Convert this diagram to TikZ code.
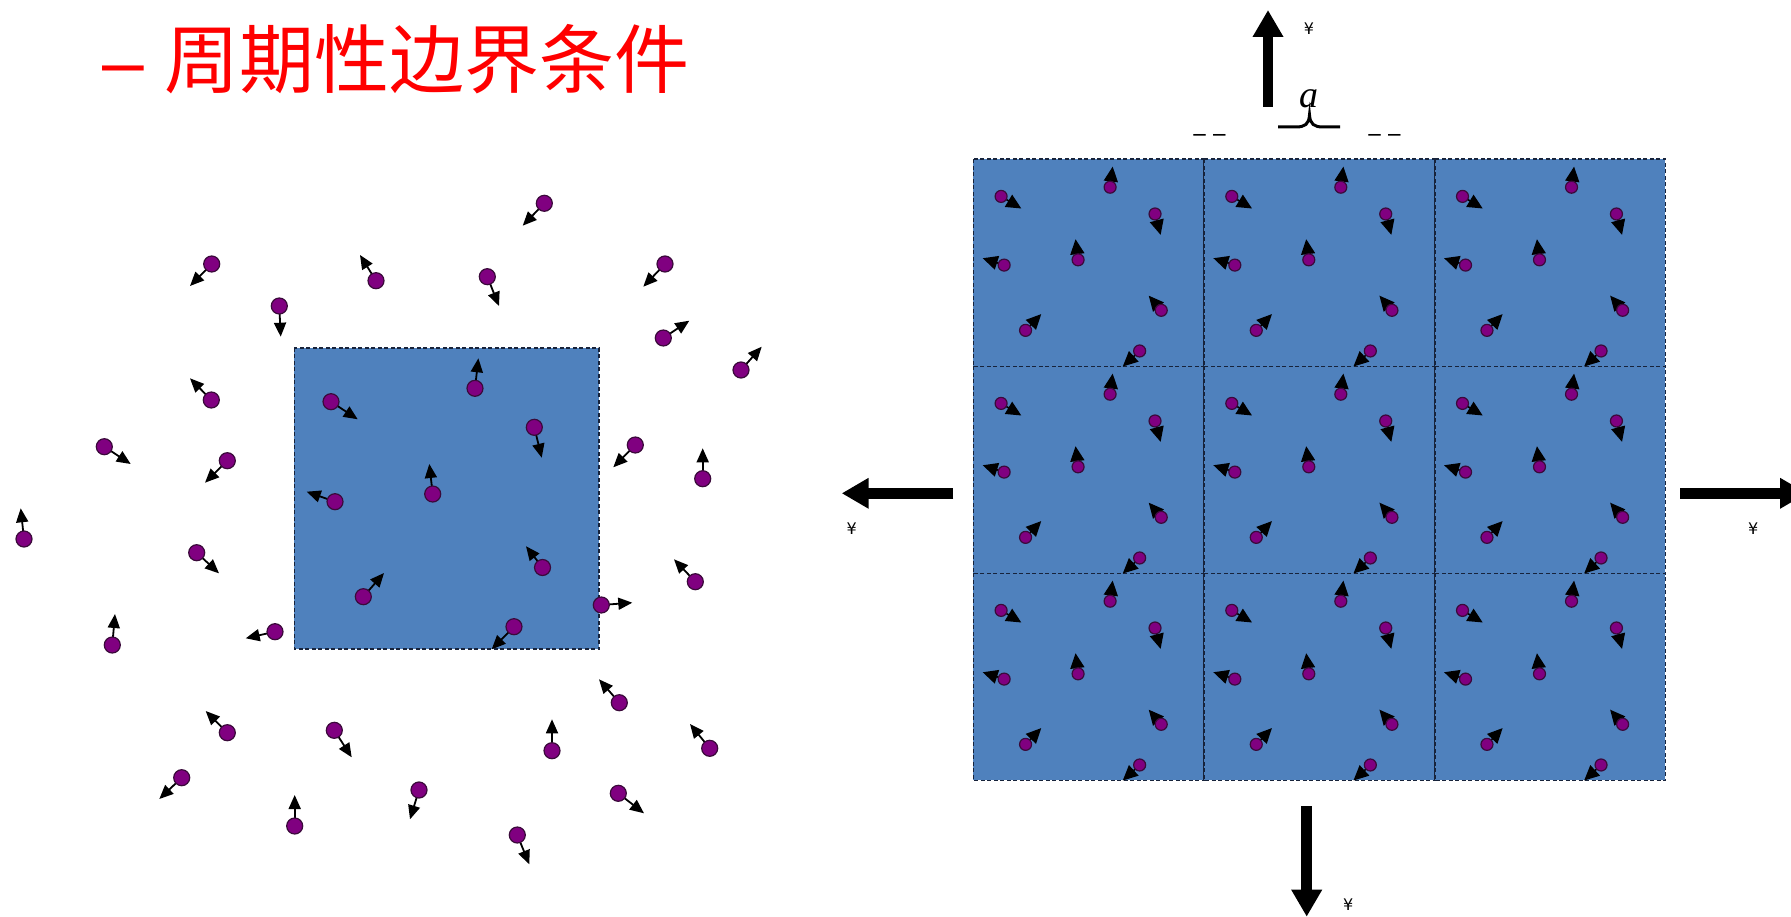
\documentclass[tikz,border=0pt]{standalone}
\usepackage{fontspec}
\newfontfamily\cjk{Noto Sans CJK SC}
\newfontfamily\djv{DejaVu Sans}
\newfontfamily\lsans{Liberation Sans}
\newfontfamily\lserif{Liberation Serif}
\usetikzlibrary{arrows.meta}
\definecolor{cellblue}{HTML}{4F81BD}
\definecolor{rim}{HTML}{17233B}
\definecolor{atomc}{HTML}{800080}
\definecolor{atomrim}{HTML}{3A0A3A}
\tikzset{
  cell/.style={fill=cellblue,draw=rim,line width=1.6pt,dash pattern=on 4pt off 2.5pt},
  vel/.style={line width=1.8pt,-{Triangle[length=14pt,width=12pt]}},
  smallvel/.style={line width=1.6pt,-{Triangle[length=15pt,width=14pt]}},
  atom/.style={fill=atomc,draw=atomrim,line width=1.2pt},
  bigarrow/.style={line width=10.5pt,-{Triangle[length=27pt,width=29pt]}},
  yen/.style={font=\djv\fontsize{16}{16}\selectfont,inner sep=0pt}}
% particle: [radius]{centre}{arrow tip}
\newcommand{\mol}[3][8pt]{\draw[vel] (#2) -- (#3); \draw[atom] (#2) circle (#1);}
\newcommand{\smallmol}[2]{\draw[smallvel] (#1) -- (#2); \draw[atom] (#1) circle (6pt);}
% particles in the box, as fractions of its width and height
\newcommand{\inbox}{0.1205/0.1792/0.2081/0.2376, 0.593/0.1348/0.6042/0.0352,
  0.7877/0.2642/0.8120/0.3651, 0.4542/0.4856/0.4431/0.3860,
  0.1336/0.5111/0.0407/0.4779, 0.8146/0.7295/0.7604/0.6588,
  0.2265/0.8264/0.2944/0.7478, 0.7210/0.9260/0.6478/1.0010}
% particles round the box
\newcommand{\outbox}{544.3/203.3/522.7/225.7, 211.7/264/190/286, 376/280.7/360/255,
  487.3/276.7/499/306, 665/264/643.3/286.7, 279.3/306/280.7/336.7,
  663.3/338/689.3/320.7, 741/370/761.7/346.7, 211.3/400/190/378.3,
  104.3/446.7/130.7/464, 227.3/460.7/205/482.7, 635.3/445/613.3/467.3,
  702.7/478.7/702.7/448.3, 24/539/20.7/508.3, 196.7/552.7/219/573.3,
  695.3/581.7/674/559.3, 112.3/645/115/614, 275/631.7/245.7/638.3,
  601.3/605/632.3/602.7, 227.3/732.7/205.7/711, 334.3/730.3/351.7/757.3,
  552/750.7/552/719.3, 619.3/702.7/599/679.3, 709.7/748.3/690/724,
  181.7/777.7/159.3/799, 294.7/826/294.7/795, 419/790/410/819.3,
  618.3/793.3/644/813.3, 517.3/835/529.3/864.3}

\begin{document}
\begin{tikzpicture}[x=1pt,y=-1pt]
  \useasboundingbox (0,0) rectangle (1791,917);
  % title
  \node[text=red,font=\fontsize{75}{75}\selectfont,anchor=west,inner sep=0pt] (title) at (102,59) {{\lsans– }\cjk 周期性边界条件};
  % single box
  \draw[cell] (294.3,347.7) rectangle (599,649);
  \foreach \cx/\cy/\tx/\ty in \inbox
    \mol{{294.3+\cx*304.7},{347.7+\cy*301.3}}{{294.3+\tx*304.7},{347.7+\ty*301.3}};
  \foreach \cx/\cy/\tx/\ty in \outbox \mol{\cx,\cy}{\tx,\ty};
  % periodic images
  \foreach \i in {0,1,2} \foreach \j in {0,1,2}
    \draw[cell] ({973.3+\i*230.7},{159.3+\j*207}) rectangle +(230.7,207);
  \foreach \i in {0,1,2} \foreach \j in {0,1,2} {
    \foreach \cx/\cy/\tx/\ty in \inbox
      \smallmol{{973.3+(\i+\cx)*230.7},{159.3+(\j+\cy)*207}}{{973.3+(\i+\tx)*230.7},{159.3+(\j+\ty)*207}};
  }
  % arrows out of the grid
  \draw[bigarrow] (1268,106.7) -- (1268,10);
  \draw[bigarrow] (953.3,493.3) -- (841.7,493.3);
  \draw[bigarrow] (1680,493.3) -- (1807,493.3);
  \draw[bigarrow] (1306.7,806) -- (1306.7,916.7);
  \node[yen] (yup) at (1309,29) {¥};
  \node[yen] (yleft) at (851.7,528.3) {¥};
  \node[yen] (yright) at (1753.3,528.3) {¥};
  \node[yen] (ydown) at (1348.3,905) {¥};
  % cell length
  \node[font=\lserif\itshape\fontsize{38}{38}\selectfont,inner sep=0pt] (alen) at (1309,99) {a};
  \draw[line width=3pt] (1278,127) -- (1296,127) .. controls (1305,127) and (1309,124) .. (1309.5,115)
    .. controls (1310,124) and (1314,127) .. (1323,127) -- (1340,127);
  \node[font=\djv\fontsize{24}{24}\selectfont,inner sep=0pt] (dl) at (1209.5,133) {\_~\_};
  \node[font=\djv\fontsize{24}{24}\selectfont,inner sep=0pt] (dr) at (1384.5,133) {\_~\_};
\end{tikzpicture}
\end{document}
